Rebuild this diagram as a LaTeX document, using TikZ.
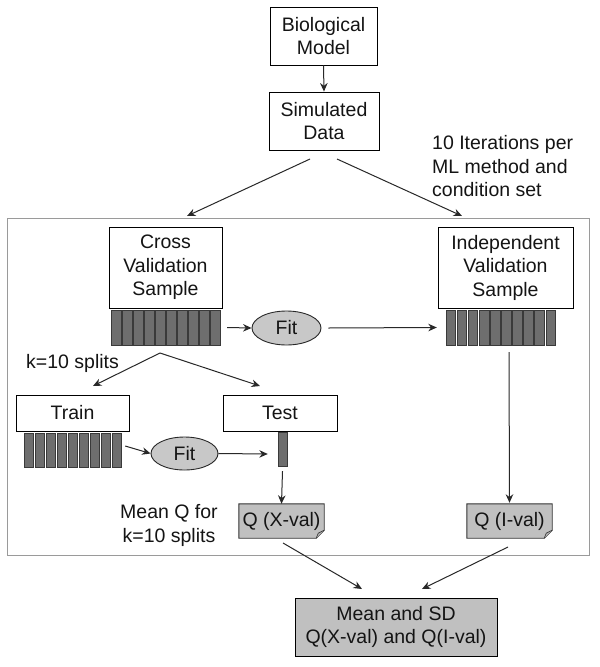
\documentclass[tikz,border=0pt]{standalone}
\usepackage{fontspec}
\setmainfont{Liberation Sans}
\usetikzlibrary{arrows.meta,shapes.geometric,calc}
\definecolor{txt}{HTML}{141414}
\definecolor{lne}{HTML}{282828}
\definecolor{barfill}{HTML}{6E6E6E}
\definecolor{barline}{HTML}{3A3A3A}
\definecolor{ellfill}{HTML}{C8C8C8}
\definecolor{qfill}{HTML}{C0C0C0}
\definecolor{frame}{HTML}{9A9A9A}
\tikzset{
  lbl/.style={font=\fontsize{19.5}{23.5}\selectfont, text=txt, align=center, inner sep=0pt},
  boxnode/.style={lbl, draw=black, line width=0.9pt, fill=white},
  ellnode/.style={lbl, ellipse, draw=lne, line width=0.9pt, fill=ellfill, inner sep=0pt},
  ghost/.style={inner sep=0pt, draw=none},
  barrect/.style={draw=barline, fill=barfill, line width=0.7pt},
  conn/.style={draw=lne, line width=1pt, -{Stealth[length=8.5pt,width=7.5pt]}},
  notenode/.style={lbl, inner sep=0pt}
}
\begin{document}
\begin{tikzpicture}[x=1pt,y=-1pt]
\useasboundingbox[fill=white] (0,0) rectangle (600,667);

% outer frame
\draw[frame, line width=1pt] (7,218) rectangle (589,555);

% top boxes
\node[boxnode, minimum width=107pt, minimum height=58pt] (bio) at (323.5,36) {Biological\\Model};
\node[boxnode, minimum width=110pt, minimum height=58pt] (sim) at (324,121) {Simulated\\Data};

\node[lbl, align=left, anchor=west] (iter) at (432,166.5) {10 Iterations per\\ML method and\\condition set};

% samples
\node[boxnode, minimum width=113pt, minimum height=81pt] (cv) at (165.5,267.5) {Cross\\Validation\\Sample};
\node[boxnode, minimum width=135pt, minimum height=81pt] (iv) at (505.5,267.5) {Independent\\Validation\\Sample};

% bar rows
\node[ghost, minimum width=110pt, minimum height=35pt] (cvbars) at (166,327.5) {};
\foreach \i in {0,...,9} { \draw[barrect] ({111.5+\i*11},310) rectangle ++(9.5,35); }
\node[ghost, minimum width=111pt, minimum height=35pt] (ivbars) at (501.5,327.5) {};
\foreach \i in {0,...,9} { \draw[barrect] ({446+\i*11.1},310) rectangle ++(9.6,35); }

\node[ellnode, minimum width=69pt, minimum height=34pt] (fit1) at (286.5,328) {Fit};

% k splits
\node[lbl, anchor=west] (ksplit) at (26,363) {k=10 splits};

\node[boxnode, minimum width=113pt, minimum height=36pt] (train) at (72.5,413) {Train};
\node[boxnode, minimum width=114pt, minimum height=36pt] (test) at (280,413) {Test};

\node[ghost, minimum width=98pt, minimum height=34pt] (trbars) at (73,450) {};
\foreach \i in {0,...,8} { \draw[barrect] ({24+\i*11},433) rectangle ++(9.5,34); }

\node[ghost, minimum width=9pt, minimum height=34pt] (tsbar) at (282.5,449) {};
\draw[barrect] (278,432) rectangle (287,466);

\node[ellnode, minimum width=67pt, minimum height=33pt] (fit2) at (184.5,453.5) {Fit};

% Q nodes (folded-corner notes)
\node[notenode, minimum width=85pt, minimum height=34pt] (qx) at (281.5,521) {};
\node[notenode, minimum width=85pt, minimum height=34pt] (qi) at (509.5,521) {};
\foreach \n in {qx,qi} {
  \fill[qfill] (\n.north west) -- (\n.north east) -- ($(\n.south east)+(0pt,8pt)$) -- ($(\n.south east)+(-8pt,0pt)$) -- (\n.south west) -- cycle;
  \draw[black!80, line width=0.9pt] (\n.north west) -- (\n.north east) -- ($(\n.south east)+(0pt,8pt)$) -- ($(\n.south east)+(-8pt,0pt)$) -- (\n.south west) -- cycle;
  \filldraw[fill=gray!60, draw=black!80, line width=0.6pt] ($(\n.south east)+(0pt,8pt)$) -- ($(\n.south east)+(-6pt,5pt)$) -- ($(\n.south east)+(-8pt,0pt)$);
}
\node[lbl] (qxt) at (qx.center) {Q (X-val)};
\node[lbl] (qit) at (qi.center) {Q (I-val)};

\node[lbl, anchor=west] (meanq) at (120,525.5) {Mean Q for\\k=10 splits};

\node[boxnode, fill=qfill, minimum width=202pt, minimum height=58pt] (mean) at (396,627) {Mean and SD\\Q(X-val) and Q(I-val)};

% coordinates for free ends
\coordinate (simL) at (310,159);
\coordinate (simR) at (337,159);
\coordinate (cvTop) at (187,216);
\coordinate (ivTop) at (462,216);
\coordinate (splitS) at (160,353);
\coordinate (trTop) at (93,386);
\coordinate (tsTop) at (260,386);
\coordinate (qxS) at (283,543);
\coordinate (qiS) at (508,547);
\coordinate (mnL) at (362,589);
\coordinate (mnR) at (422,589);
\coordinate (ivB) at (509,352);

% connectors
\draw[conn] (bio.south) -- (sim.north);
\draw[conn] (simL) -- (cvTop);
\draw[conn] (simR) -- (ivTop);
\draw[conn] ($(cvbars.east)+(6pt,0pt)$) -- (fit1.west);
\draw[conn] ($(fit1.east)+(7pt,0pt)$) -- ($(ivbars.west)+(-9pt,0pt)$);
\draw[conn] (splitS) -- (trTop);
\draw[conn] (splitS) -- (tsTop);
\draw[conn] ($(trbars.east)+(3pt,4pt)$) -- (fit2.west);
\draw[conn] (fit2.east) -- ($(tsbar.west)+(-10pt,-5pt)$);
\draw[conn] ($(tsbar.south)+(0pt,-5pt)$) -- (qx.north);
\draw[conn] (ivB) -- ($(qi.north)+(0pt,1pt)$);
\draw[conn] (qxS) -- (mnL);
\draw[conn] (qiS) -- (mnR);
\end{tikzpicture}
\end{document}
